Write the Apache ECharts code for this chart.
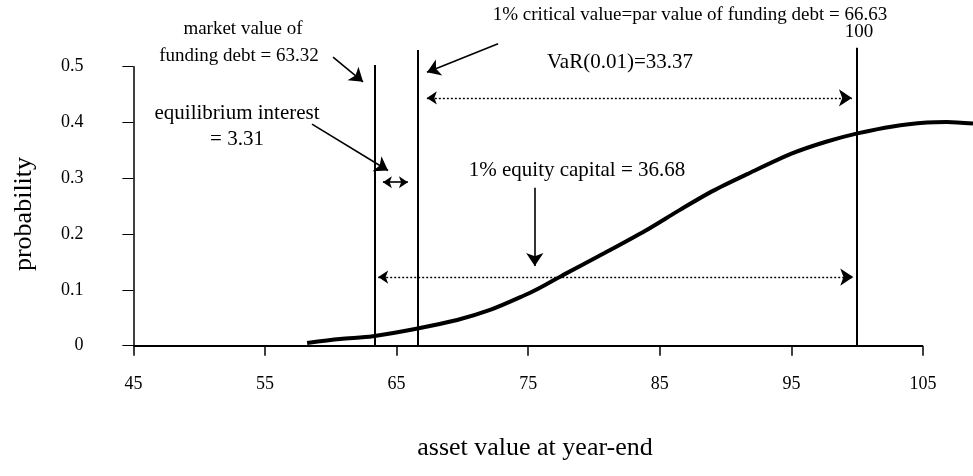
<!DOCTYPE html>
<html>
<head>
<meta charset="utf-8">
<script src="https://cdn.jsdelivr.net/npm/echarts@6/dist/echarts.min.js"></script>
<style>
  html, body { margin: 0; padding: 0; background: #fff; }
  #chart { width: 973px; height: 476px; }
</style>
</head>
<body>
<div id="chart"></div>
<script>
// asset value distribution curve
const assetValues = [58.2, 60.7, 63.2, 66.4, 69.6, 72.1, 74.6, 75.9, 77.6, 80.8, 83.9, 86.5, 89.0, 91.6, 95.1, 97.7, 100.1, 102.7, 105.3, 106.8, 108.8];
const probValues = [0.005, 0.012, 0.017, 0.030, 0.046, 0.064, 0.089, 0.104, 0.126, 0.166, 0.206, 0.243, 0.277, 0.307, 0.345, 0.366, 0.381, 0.393, 0.400, 0.401, 0.398];

const xTicks = [45, 55, 65, 75, 85, 95, 105];
const yTicks = [0, 0.1, 0.2, 0.3, 0.4, 0.5];

// key values
const marketValue = 63.32;
const criticalValue = 66.63;
const parValue = 100;

// vertical reference lines: [x, top y]
const refLines = [[marketValue, 0.503], [criticalValue, 0.53], [parValue, 0.534]];
// solid pointer arrows: [x1, y1, x2, y2]
const pointerArrows = [
    [60.17, 0.517, 62.45, 0.473],
    [72.71, 0.541, 67.31, 0.490],
    [58.57, 0.397, 64.35, 0.314],
    [75.5, 0.283, 75.5, 0.143]
];
// double headed arrows
const interestArrow = [63.96, 0.293, 65.86, 0.293];
const dottedArrows = [
    [67.3, 0.444, 99.6, 0.444],
    [63.6, 0.123, 99.7, 0.123]
];

const FONT = '"Liberation Serif", "Times New Roman", serif';

function seg(a) {
    return { coords: [[a[0], a[1]], [a[2], a[3]]] };
}

function segSeries(data, symbol, symbolSize, lineStyle) {
    return {
        type: 'lines',
        coordinateSystem: 'cartesian2d',
        clip: false,
        silent: true,
        symbol: symbol,
        symbolSize: symbolSize,
        lineStyle: Object.assign({ color: '#000', opacity: 1, curveness: 0 }, lineStyle),
        data: data.map(seg)
    };
}

const chart = echarts.init(document.getElementById('chart'));

const option = {
    animation: false,
    backgroundColor: '#fff',
    grid: { left: 133.4, right: 0, top: 66.7, bottom: 130.3 },
    xAxis: {
        type: 'value',
        min: 45,
        max: 108.8,
        interval: 10,
        axisLine: { show: false },
        axisTick: { show: true, length: 10, lineStyle: { color: '#000', width: 1.5 } },
        splitLine: { show: false },
        axisLabel: {
            margin: 30,
            fontFamily: FONT,
            fontSize: 18,
            color: '#000',
            showMaxLabel: false,
            formatter: v => xTicks.includes(v) ? String(v) : ''
        }
    },
    yAxis: {
        type: 'value',
        min: 0,
        max: 0.5,
        interval: 0.1,
        axisLine: { show: true, lineStyle: { color: '#000', width: 1.5 } },
        axisTick: { show: true, length: 11, lineStyle: { color: '#000', width: 1 } },
        splitLine: { show: false },
        axisLabel: {
            margin: 50,
            fontFamily: FONT,
            fontSize: 18,
            color: '#000',
            formatter: v => {
                const t = yTicks.find(k => Math.abs(k - v) < 1e-6);
                return t === 0 ? '0' : t.toFixed(1);
            }
        }
    },
    series: [
        {
            name: 'asset value',
            type: 'line',
            data: assetValues.map((x, i) => [x, probValues[i]]),
            smooth: 0.3,
            symbol: 'none',
            lineStyle: { color: '#000', width: 4 }
        },
        // baseline and vertical reference lines
        segSeries(
            refLines.map(r => [r[0], 0, r[0], r[1]]).concat([[45, 0, 105, 0]]),
            ['none', 'none'], 0, { width: 2, type: 'solid' }
        ),
        segSeries(pointerArrows, ['none', 'arrow'], [10, 13], { width: 1.6, type: 'solid' }),
        segSeries([interestArrow], ['arrow', 'arrow'], [9, 9], { width: 1.6, type: 'solid' }),
        segSeries(dottedArrows, ['arrow', 'arrow'], [10, 13], { width: 1.4, type: [2, 2] })
    ],
    graphic: [
        { type: 'text', x: 243, y: 29, style: { text: 'market value of', font: '19px ' + FONT, fill: '#000', align: 'center', verticalAlign: 'middle' } },
        { type: 'text', x: 239, y: 56, style: { text: 'funding debt = 63.32', font: '19px ' + FONT, fill: '#000', align: 'center', verticalAlign: 'middle' } },
        { type: 'text', x: 690, y: 15, style: { text: '1% critical value=par value of funding debt = 66.63', font: '19px ' + FONT, fill: '#000', align: 'center', verticalAlign: 'middle' } },
        { type: 'text', x: 859, y: 32, style: { text: '100', font: '19px ' + FONT, fill: '#000', align: 'center', verticalAlign: 'middle' } },
        { type: 'text', x: 620, y: 62, style: { text: 'VaR(0.01)=33.37', font: '21px ' + FONT, fill: '#000', align: 'center', verticalAlign: 'middle' } },
        { type: 'text', x: 237, y: 113, style: { text: 'equilibrium interest', font: '21px ' + FONT, fill: '#000', align: 'center', verticalAlign: 'middle' } },
        { type: 'text', x: 237, y: 139, style: { text: '= 3.31', font: '21px ' + FONT, fill: '#000', align: 'center', verticalAlign: 'middle' } },
        { type: 'text', x: 577, y: 170, style: { text: '1% equity capital = 36.68', font: '21px ' + FONT, fill: '#000', align: 'center', verticalAlign: 'middle' } },
        { type: 'text', x: 24, y: 214, rotation: Math.PI / 2, style: { text: 'probability', font: '26px ' + FONT, fill: '#000', align: 'center', verticalAlign: 'middle' } },
        { type: 'text', x: 535, y: 448, style: { text: 'asset value at year-end', font: '26px ' + FONT, fill: '#000', align: 'center', verticalAlign: 'middle' } }
    ]
};

chart.setOption(option);
</script>
</body>
</html>
